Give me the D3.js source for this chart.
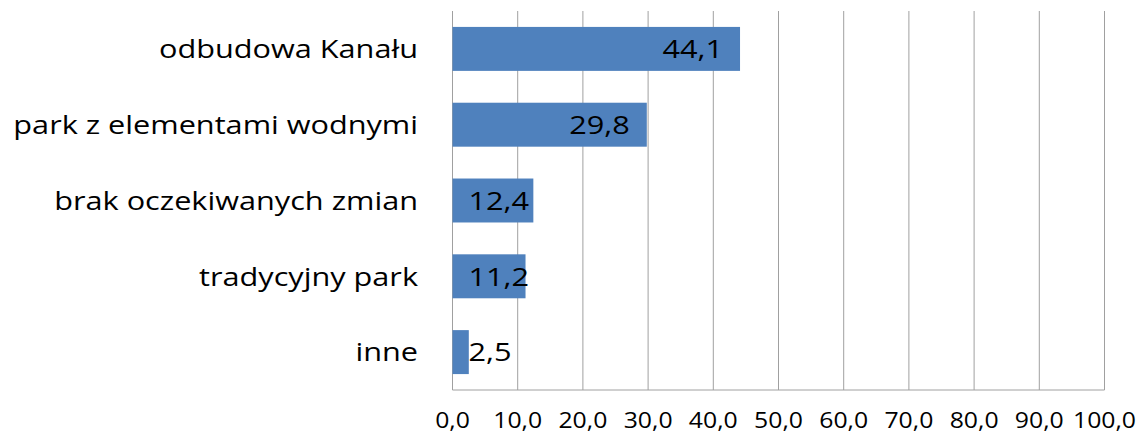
<!DOCTYPE html>
<html>
<head>
<meta charset="utf-8">
<script src="https://cdn.jsdelivr.net/npm/d3@7"></script>
<style>
  body { margin: 0; background: #fff; }
  text { font-family: "Open Sans", sans-serif; fill: #000; }
</style>
</head>
<body>
<div class="chart"></div>
<script>
const categories = ["odbudowa Kanału", "park z elementami wodnymi", "brak oczekiwanych zmian", "tradycyjny park", "inne"];
const values = [44.1, 29.8, 12.4, 11.2, 2.5];
const ticks = [0, 10, 20, 30, 40, 50, 60, 70, 80, 90, 100];

const width = 1140;
const height = 437;
const plotLeft = 452.5, plotRight = 1104.5, plotTop = 11, plotBottom = 390;
const sx = 1.18; // reference text is wider than Open Sans

const svg = d3.select('.chart')
    .append('svg')
    .attr('width', width)
    .attr('height', height)

const x = d3.scaleLinear().domain([0, 100]).range([plotLeft, plotRight]);
const y = d3.scaleBand().domain(categories).range([plotTop, plotBottom]).paddingInner(0.42).paddingOuter(0.21);

// gridlines
svg.selectAll('.grid')
    .data(ticks)
    .enter()
    .append('line')
    .attr('x1', d => x(d))
    .attr('x2', d => x(d))
    .attr('y1', plotTop)
    .attr('y2', plotBottom)
    .attr('stroke', '#a0a0a0')
    .attr('stroke-width', 1)

// axis line
svg.append('line')
    .attr('x1', plotLeft)
    .attr('x2', plotRight)
    .attr('y1', plotBottom)
    .attr('y2', plotBottom)
    .attr('stroke', '#a0a0a0')

svg.selectAll('.tick-label')
    .data(ticks)
    .enter()
    .append('text')
    .text(d => d.toFixed(1).replace('.', ','))
    .attr('transform', d => `translate(${x(d)},428) scale(${sx},1)`)
    .attr('text-anchor', 'middle')
    .attr('font-size', '21px')

const data = categories.map((c, i) => ({ cat: c, val: values[i] }));

svg.selectAll('rect')
    .data(data)
    .enter()
    .append('rect')
    .attr('x', x(0))
    .attr('y', d => y(d.cat))
    .attr('width', d => x(d.val) - x(0))
    .attr('height', y.bandwidth())
    .attr('fill', '#4f81bd')

svg.selectAll('.cat')
    .data(data)
    .enter()
    .append('text')
    .text(d => d.cat)
    .attr('transform', d => `translate(418,${y(d.cat) + y.bandwidth() / 2}) scale(${sx},1)`)
    .attr('dy', '0.36em')
    .attr('text-anchor', 'end')
    .attr('font-size', '26px')

svg.selectAll('.val')
    .data(data)
    .enter()
    .append('text')
    .text(d => d.val.toFixed(1).replace('.', ','))
    .attr('dy', '0.36em')
    .attr('font-size', '26px')
    .attr('transform', function(d) {
      const w = this.getComputedTextLength() * sx;
      const tx = Math.max(x(0) + 16, x(d.val) - 17 - w);
      return `translate(${tx},${y(d.cat) + y.bandwidth() / 2}) scale(${sx},1)`;
    })
</script>
</body>
</html>
